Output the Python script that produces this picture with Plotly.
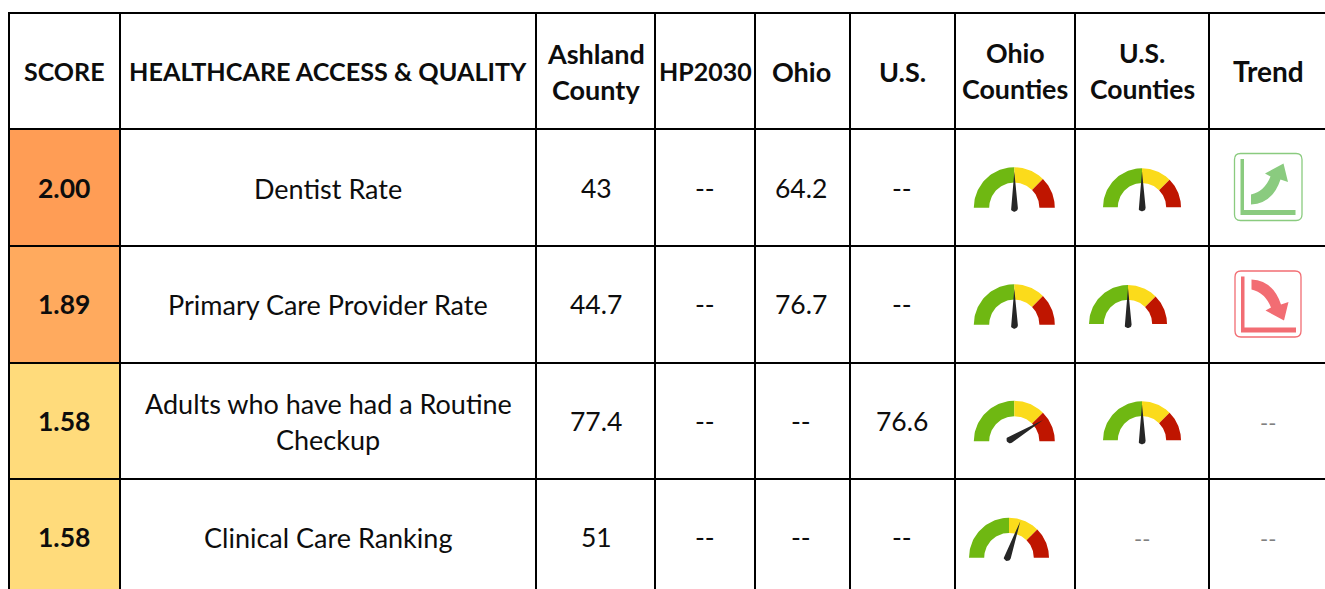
import numpy as np
import plotly.graph_objects as go

# ---------- data ----------
headers = ["SCORE", "HEALTHCARE ACCESS & QUALITY", "Ashland<br>County", "HP2030", "Ohio", "U.S.",
           "Ohio<br>Counties", "U.S.<br>Counties", "Trend"]
scores = ["2.00", "1.89", "1.58", "1.58"]
indicators = ["Dentist Rate", "Primary Care Provider Rate",
              "Adults who have had a Routine<br>Checkup", "Clinical Care Ranking"]
ashland = ["43", "44.7", "77.4", "51"]
hp2030 = ["--", "--", "--", "--"]
ohio = ["64.2", "76.7", "--", "--"]
us = ["--", "--", "76.6", "--"]
# needle reading on each dial: 0 = far left, 1 = far right, None = no dial
ohio_needle = [0.5, 0.5, 0.83, 0.61]
us_needle = [0.5, 0.5, 0.5, None]
trend = ["up", "down", None, None]

# ---------- layout ----------
W, H = 1325, 589
col_edges = [9, 120, 536, 655, 755, 850, 955, 1075, 1209]
row_edges = [13, 129, 246, 363, 479]
col_text_x = [64, 328, 596, 705, 801, 902, 1015, 1142, 1268]
head_y = 71
row_y = [188, 304, 421, 537]
line_gap = 36
score_fill = ["#FF9D55", "#FFAA5E", "#FFDB7B", "#FFDB7B"]
FONT = "Lato"
SIZE = 27
NUM_SIZE = 26.5
HEAD_SIZES = [25, 25.2, 27, 25, 27, 27, 26.8, 26.5, 28]
INK = "#0d0d0d"
GREEN, YELLOW, RED, NEEDLE = "#6FB812", "#FBDB1B", "#BF1500", "#262626"
UP_C, DOWN_C = "#8ACB7F", "#F26D73"

# per-dial geometry: centre x, baseline y, radius, pivot offset
ohio_dials = [(1014.3, 207.7, 40.5, (0, 0.5)), (1014.3, 324.7, 40.5, (0, 0.5)),
              (1014.3, 441.3, 40.5, (-4.3, -1.7)), (1009, 557.7, 40, (-1.7, -0.3))]
us_dials = [(1142, 207.3, 39, (0, 0.5)), (1128, 324, 39, (0, 0.5)),
            (1142, 440.3, 39, (0, 0.5)), None]
icon_boxes = [(1234.5, 153.5, 67.5, 67), (1235, 271, 66, 66), None, None]

fig = go.Figure()
shapes = []
for i, c in enumerate(score_fill):
    shapes.append(dict(type="rect", x0=col_edges[0], x1=col_edges[1], y0=row_edges[i + 1],
                       y1=row_edges[i + 2] if i < 3 else H,
                       fillcolor=c, line_width=0, layer="below"))
for x in col_edges:
    shapes.append(dict(type="line", x0=x, x1=x, y0=row_edges[0] - 1, y1=H, line=dict(color="black", width=2)))
for y in row_edges:
    shapes.append(dict(type="line", x0=col_edges[0], x1=W, y0=y, y1=y, line=dict(color="black", width=2)))


def wedge(cx, cy, r, a0, a1, inner=0.62):
    t = np.radians(np.linspace(a0, a1, 40))
    xs = np.r_[cx + r * np.cos(t), cx + r * inner * np.cos(t[::-1])]
    ys = np.r_[cy - r * np.sin(t), cy - r * inner * np.sin(t[::-1])]
    return list(xs) + [xs[0], None], list(ys) + [ys[0], None]


polys = {GREEN: ([], []), YELLOW: ([], []), RED: ([], []), NEEDLE: ([], [])}
for readings, dials in ((ohio_needle, ohio_dials), (us_needle, us_dials)):
    for v, d in zip(readings, dials):
        if v is None:
            continue
        cx, cy, r, (ox, oy) = d
        for col, a0, a1 in ((GREEN, 180, 90), (YELLOW, 90, 45), (RED, 45, 0)):
            xs, ys = wedge(cx, cy, r, a0, a1)
            polys[col][0].extend(xs)
            polys[col][1].extend(ys)
        ang = np.radians(180 - 180 * v)
        px, py = cx + ox, cy + oy
        length = 38.5 if v != 0.5 else 36.5
        tip = (px + length * np.cos(ang), py - length * np.sin(ang))
        cap = ang + np.radians(np.linspace(90, 270, 14))
        xs = [tip[0]] + list(px + 3.6 * np.cos(cap)) + [tip[0], None]
        ys = [tip[1]] + list(py - 3.6 * np.sin(cap)) + [tip[1], None]
        polys[NEEDLE][0].extend(xs)
        polys[NEEDLE][1].extend(ys)
for col, (xs, ys) in polys.items():
    fig.add_trace(go.Scatter(x=xs, y=ys, mode="lines", fill="toself", fillcolor=col,
                             line=dict(width=0, color=col), hoverinfo="skip", showlegend=False))

# trend icons
for kind, box in zip(trend, icon_boxes):
    if kind is None:
        continue
    x, y, w, h = box
    col = UP_C if kind == "up" else DOWN_C
    r = 6
    shapes.append(dict(type="path", line=dict(color=col, width=1.3), fillcolor="rgba(0,0,0,0)",
                       path=f"M{x+r},{y} L{x+w-r},{y} Q{x+w},{y} {x+w},{y+r} L{x+w},{y+h-r} Q{x+w},{y+h} {x+w-r},{y+h} "
                            f"L{x+r},{y+h} Q{x},{y+h} {x},{y+h-r} L{x},{y+r} Q{x},{y} {x+r},{y} Z"))
    ax0, ay0 = x + 6, y + 5.5
    shapes.append(dict(type="path", line_width=0, fillcolor=col,
                       path=f"M{ax0},{ay0} L{ax0+3.5},{ay0} L{ax0+3.5},{ay0+51} L{ax0+55},{ay0+51} "
                            f"L{ax0+55},{ay0+56} L{ax0},{ay0+56} Z"))

    def P(a, b):
        yy = b if kind == "up" else 59.5 - b
        return f"{x+a:.1f},{y+yy:.1f}"
    shapes.append(dict(type="path", line_width=0, fillcolor=col,
                       path=f"M{P(16.5,41)} Q{P(30,38)} {P(36,23)} L{P(30.5,20)} L{P(49,10)} L{P(53.5,28.5)} L{P(46,26)} "
                            f"Q{P(38,50)} {P(16.5,51)} Z"))

# ---------- text: one real text item per line ----------
ann = []


def put(x, y, s, bold=False, color=INK, size=SIZE):
    lines = s.split("<br>")
    for k, ln in enumerate(lines):
        yy = y + (k - (len(lines) - 1) / 2) * line_gap
        ann.append(dict(x=x, y=yy, text=f"<b>{ln}</b>" if bold else ln, showarrow=False, xanchor="center", yanchor="middle",
                        font=dict(family=FONT, size=size, color=color)))


for x, h, s in zip(col_text_x, headers, HEAD_SIZES):
    put(x, head_y, h, bold=True, size=s)
for i, y in enumerate(row_y):
    put(col_text_x[0], y, scores[i], bold=True, size=NUM_SIZE)
    put(col_text_x[1], y, indicators[i])
    put(col_text_x[2], y, ashland[i], size=NUM_SIZE)
    put(col_text_x[3], y, hp2030[i], size=NUM_SIZE)
    put(col_text_x[4], y, ohio[i], size=NUM_SIZE)
    put(col_text_x[5], y, us[i], size=NUM_SIZE)
    if us_needle[i] is None:
        put(col_text_x[7], y + 1, "--", color="#808080", size=22)
    if trend[i] is None:
        put(col_text_x[8], y + 1, "--", color="#808080", size=22)

fig.update_layout(width=W, height=H, margin=dict(l=0, r=0, t=0, b=0), paper_bgcolor="white", plot_bgcolor="white",
                  xaxis=dict(range=[0, W], visible=False, fixedrange=True),
                  yaxis=dict(range=[H, 0], visible=False, fixedrange=True),
                  shapes=shapes, annotations=ann, showlegend=False)
fig.write_html("out.html", config=dict(displayModeBar=False), post_script="document.body.style.margin='0';")
